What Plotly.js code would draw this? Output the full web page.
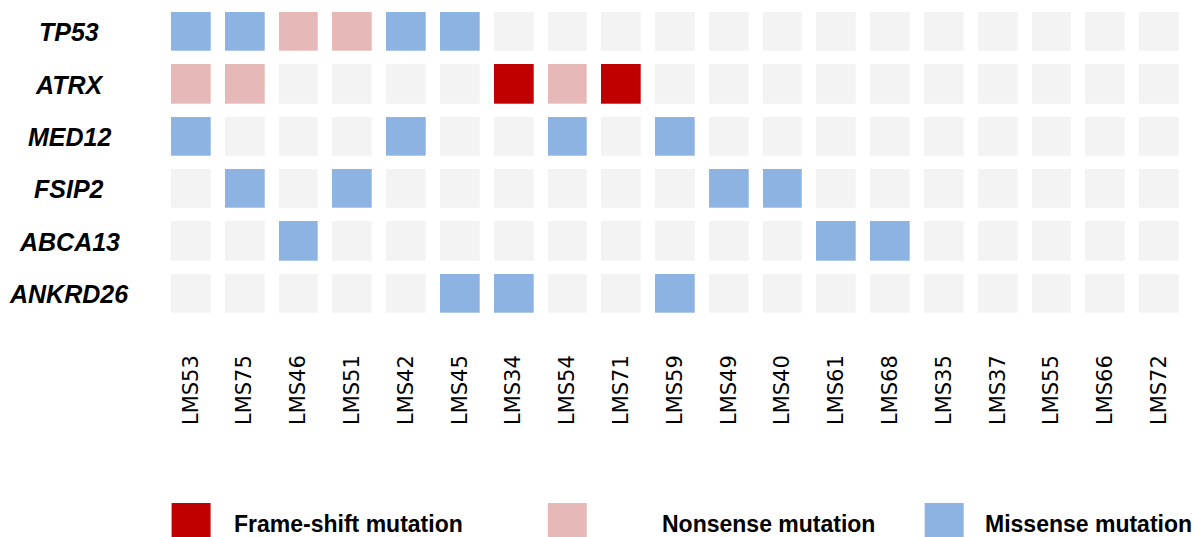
<!DOCTYPE html>
<html>
<head>
<meta charset="utf-8">
<script src="https://cdn.plot.ly/plotly-3.0.1.min.js"></script>
<style>html,body{margin:0;padding:0;background:#fff;}#chart{width:1196px;height:537px;}</style>
</head>
<body>
<div id="chart"></div>
<script>
// Samples (columns) and genes (rows)
const samples = ["LMS53","LMS75","LMS46","LMS51","LMS42","LMS45","LMS34","LMS54","LMS71","LMS59","LMS49","LMS40","LMS61","LMS68","LMS35","LMS37","LMS55","LMS66","LMS72"];
const genes = ["TP53","ATRX","MED12","FSIP2","ABCA13","ANKRD26"];

// Mutation codes: 0 = none, 1 = frame-shift, 2 = nonsense, 3 = missense
const TP53    = [3,3,2,2,3,3,0,0,0,0,0,0,0,0,0,0,0,0,0];
const ATRX    = [2,2,0,0,0,0,1,2,1,0,0,0,0,0,0,0,0,0,0];
const MED12   = [3,0,0,0,3,0,0,3,0,3,0,0,0,0,0,0,0,0,0];
const FSIP2   = [0,3,0,3,0,0,0,0,0,0,3,3,0,0,0,0,0,0,0];
const ABCA13  = [0,0,3,0,0,0,0,0,0,0,0,0,3,3,0,0,0,0,0];
const ANKRD26 = [0,0,0,0,0,3,3,0,0,3,0,0,0,0,0,0,0,0,0];

const legendLabels = ["Frame-shift mutation","Nonsense mutation","Missense mutation"];

const colNone = "#f3f3f3", colFS = "#c00000", colNS = "#e6b9b8", colMS = "#8db3e2";

const z = [TP53, ATRX, MED12, FSIP2, ABCA13, ANKRD26];

const W = 1196, H = 537;
const mL = 164.1, mR = 9.6, mT = 6.4, mB = 216.8;
const pw = W - mL - mR, ph = H - mT - mB;
const px = v => (v - mL) / pw;          // pixel x -> paper x
const py = v => (H - mB - v) / ph;      // pixel y -> paper y

const trace = {
  type: "heatmap",
  x: samples,
  y: genes,
  z: z,
  zmin: 0, zmax: 3,
  colorscale: [
    [0, colNone],[0.125, colNone],
    [0.125, colFS],[0.5, colFS],
    [0.5, colNS],[0.875, colNS],
    [0.875, colMS],[1, colMS]
  ],
  showscale: false,
  xgap: 14.3,
  ygap: 13.3,
  hoverinfo: "x+y+z"
};

const shapes = [];
const annotations = [];
const legendColors = [colFS, colNS, colMS];
const swatchLeft = [171.7, 548, 925];
const textLeft = [231.7, 660.7, 983];
for (let i = 0; i < legendLabels.length; i++) {
  shapes.push({
    type: "rect", xref: "paper", yref: "paper",
    x0: px(swatchLeft[i]), x1: px(swatchLeft[i] + 39),
    y0: py(542), y1: py(503),
    fillcolor: legendColors[i], line: {width: 0}, layer: "above"
  });
  annotations.push({
    xref: "paper", yref: "paper",
    x: px(textLeft[i]), y: py(524),
    xanchor: "left", yanchor: "middle",
    text: legendLabels[i], showarrow: false,
    font: {family: "Liberation Sans, Arial, sans-serif", size: 23, color: "#000", weight: "bold"}
  });
}
genes.forEach(g => {
  annotations.push({
    xref: "paper", yref: "y",
    x: px(69.5), y: g,
    xanchor: "center", yanchor: "middle",
    text: g, showarrow: false,
    font: {family: "Liberation Sans, Arial, sans-serif", size: 25, color: "#000", weight: "bold", style: "italic"}
  });
});

const layout = {
  width: W, height: H,
  margin: {l: mL, r: mR, t: mT, b: mB, pad: 0},
  paper_bgcolor: "#ffffff",
  plot_bgcolor: "#ffffff",
  showlegend: false,
  xaxis: {
    type: "category",
    tickangle: -90,
    showgrid: false, zeroline: false, showline: false,
    ticks: "",
    ticklabelstandoff: 30,
    tickfont: {family: "DejaVu Sans, sans-serif", size: 21, color: "#000"}
  },
  yaxis: {
    type: "category",
    autorange: "reversed",
    showgrid: false, zeroline: false, showline: false,
    ticks: "", showticklabels: false
  },
  shapes: shapes,
  annotations: annotations
};

Plotly.newPlot("chart", [trace], layout, {displayModeBar: false, staticPlot: true});
</script>
</body>
</html>
